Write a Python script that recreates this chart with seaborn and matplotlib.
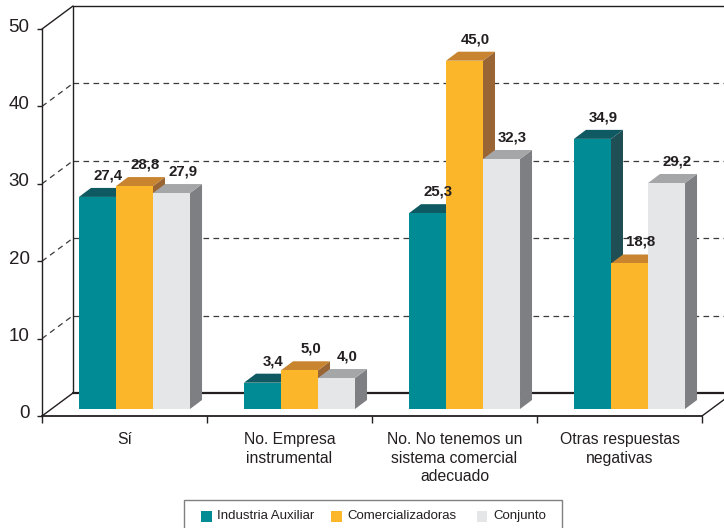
import matplotlib
matplotlib.use("Agg")
import matplotlib.pyplot as plt
import matplotlib.transforms as mtransforms
from matplotlib.patches import Polygon, Rectangle
from matplotlib.lines import Line2D
import seaborn as sns
import pandas as pd

# ---------------- data ----------------
categories = ["Sí", "No. Empresa\ninstrumental", "No. No tenemos un\nsistema comercial\nadecuado",
              "Otras respuestas\nnegativas"]
series = ["Industria Auxiliar", "Comercializadoras", "Conjunto"]
industria = [27.4, 3.4, 25.3, 34.9]
comercial = [28.8, 5.0, 45.0, 18.8]
conjunto = [27.9, 4.0, 32.3, 29.2]
yticks = [0, 10, 20, 30, 40, 50]

front_cols = ["#008B95", "#FBB62A", "#E5E6E8"]
top_cols = ["#0F5A62", "#C8842F", "#A5A6A8"]
side_cols = ["#1F4E55", "#9A6535", "#7E7F82"]

rows = []
for s, vals in zip(series, [industria, comercial, conjunto]):
    for c, v in zip(categories, vals):
        rows.append({"cat": c, "serie": s, "val": v})
df = pd.DataFrame(rows)

sns.set_style("white")
plt.rcParams["font.family"] = ["Liberation Sans", "DejaVu Sans"]
DARK = "#231F20"

W, H = 724, 528
fig = plt.figure(figsize=(W / 100, H / 100), dpi=100)
ax = fig.add_axes([42 / W, 112 / H, 660 / W, 387 / H])

sns.barplot(data=df, x="cat", y="val", hue="serie", order=categories, hue_order=series,
            palette=front_cols, saturation=1, width=0.673, legend=False, ax=ax,
            linewidth=0, errorbar=None)

ax.set_xlim(-0.5, 3.5)
ax.set_ylim(0, 50)

PX = 1 / 165.0
PY = 50 / 387.0
WDX, WDY = 31 * PX, 23 * PY      # back wall offset
FDX, FDY = 10 * PX, 7 * PY       # bar front plane offset
DDX, DDY = 12 * PX, 9 * PY       # bar depth

# ---------------- 3D bars ----------------
bars = []
for si, cont in enumerate(ax.containers):
    for rect in cont:
        bars.append((rect.get_x(), si, rect))
bars.sort(key=lambda b: b[0])
for i, (x0, si, rect) in enumerate(bars):
    w = rect.get_width()
    h = rect.get_height()
    x = x0 + FDX
    y0 = FDY
    y1 = FDY + h
    z = 5 + i * 0.01
    rect.set_x(x)
    rect.set_y(y0)
    rect.set_zorder(z + 0.003)
    rect.set_clip_on(False)
    side = Polygon([(x + w, y0), (x + w + DDX, y0 + DDY), (x + w + DDX, y1 + DDY), (x + w, y1)],
                   closed=True, facecolor=side_cols[si], edgecolor="none", zorder=z, clip_on=False)
    top = Polygon([(x, y1), (x + w, y1), (x + w + DDX, y1 + DDY), (x + DDX, y1 + DDY)],
                  closed=True, facecolor=top_cols[si], edgecolor="none", zorder=z + 0.001, clip_on=False)
    ax.add_patch(side)
    ax.add_patch(top)
    lab = f"{h:.1f}".replace(".", ",")
    ax.text(x + w / 2 + 11 * PX, y1 + 21.5 * PY, lab, ha="center", va="center",
            fontsize=10.8, fontweight="bold", color=DARK, zorder=20, clip_on=False)

# ---------------- walls / grid ----------------
xl, xr = -0.5, 3.5
xedge = -0.5 + (W - 42) * PX + 0.1
dash = (0, (4.5, 3.5))
gcol = "#3A3A3A"
for v in yticks:
    if v in (0, 50):
        continue
    ax.add_line(Line2D([xl + WDX, xedge], [v + WDY, v + WDY], color=gcol, lw=0.9,
                       linestyle=dash, zorder=1, clip_on=False))
    ax.add_line(Line2D([xl, xl + WDX], [v, v + WDY], color=gcol, lw=0.9,
                       linestyle=dash, zorder=1, clip_on=False))
ax.add_line(Line2D([xl + WDX, xedge], [WDY, WDY], color=DARK, lw=1.6, zorder=1, clip_on=False))
ax.add_line(Line2D([xl + WDX, xedge], [50 + WDY, 50 + WDY], color=DARK, lw=1.0, zorder=1, clip_on=False))
ax.add_line(Line2D([xl + WDX, xl + WDX], [WDY, 50 + WDY], color=DARK, lw=1.0, zorder=1, clip_on=False))
ax.add_line(Line2D([xl, xl + WDX], [0, WDY], color=DARK, lw=1.0, zorder=1, clip_on=False))
ax.add_line(Line2D([xl, xl + WDX], [50, 50 + WDY], color=DARK, lw=1.0, zorder=1, clip_on=False))
ax.add_line(Line2D([xr, xr + WDX], [0, WDY], color=DARK, lw=1.0, zorder=1, clip_on=False))

# ---------------- axes ----------------
for sp in ["top", "right"]:
    ax.spines[sp].set_visible(False)
ax.spines["left"].set_color(DARK)
ax.spines["left"].set_linewidth(1.0)
ax.spines["bottom"].set_color(DARK)
ax.spines["bottom"].set_linewidth(1.3)
ax.set_xlabel("")
ax.set_ylabel("")
ax.set_yticks(yticks)
ax.set_yticklabels([str(v) for v in yticks])
ax.tick_params(axis="y", length=3.6, width=1, color=DARK, pad=5.3, labelsize=13.5,
               labelcolor=DARK, left=True)
off = mtransforms.ScaledTranslation(0, 4 / 100, fig.dpi_scale_trans)
for lab in ax.get_yticklabels():
    lab.set_transform(lab.get_transform() + off)

ax.set_xticks(range(len(categories)))
ax.set_xticklabels(categories)
ax.tick_params(axis="x", which="major", length=0, pad=11.5, labelsize=11.3, labelcolor=DARK)
ax.set_xticks([-0.5, 0.5, 1.5, 2.5, 3.5], minor=True)
ax.tick_params(axis="x", which="minor", length=5, width=1, color=DARK, bottom=True, direction="out")
for lab in ax.get_xticklabels():
    lab.set_linespacing(1.3)

# ---------------- legend (drawn in pixel positions) ----------------
def fx(p):
    return p / W

def fy(p):
    return 1 - p / H

frame = Rectangle((fx(184), fy(540)), fx(562) - fx(184), fy(500) - fy(540),
                  transform=fig.transFigure, facecolor="white", edgecolor="#808080",
                  linewidth=1.0, zorder=30)
fig.add_artist(frame)
sq_x = [201, 331, 477]
txt_x = [217, 347, 493]
for c, s, sx, tx in zip(front_cols, series, sq_x, txt_x):
    fig.add_artist(Rectangle((fx(sx), fy(521.5)), fx(10.5), 10.5 / H, transform=fig.transFigure,
                             facecolor=c, edgecolor="none", zorder=31))
    fig.text(fx(tx), fy(516), s, ha="left", va="center", fontsize=9.5, color=DARK, zorder=32)

fig.savefig("out.png", dpi=100)
